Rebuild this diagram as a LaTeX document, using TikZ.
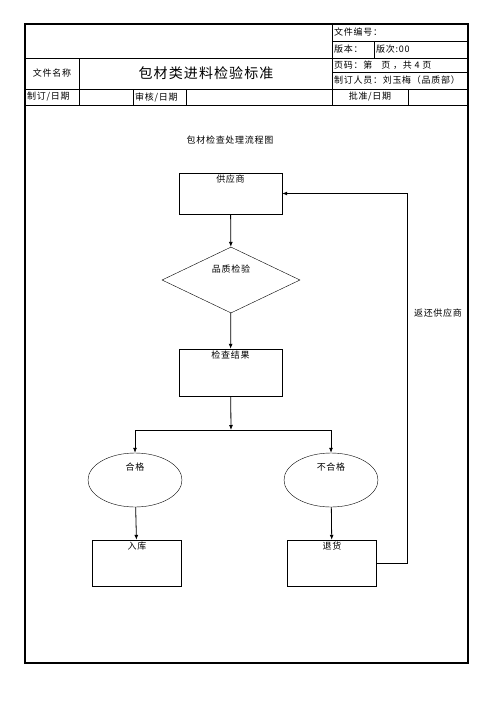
\documentclass[tikz,border=0pt]{standalone}
\usepackage{fontspec}
\setmainfont{Noto Sans CJK SC}[LetterSpace=8]
\usetikzlibrary{shapes.geometric,arrows.meta}

\tikzset{
  cell/.style={anchor=west, inner sep=2pt, font=\fontsize{9}{10}\selectfont},
  flowbox/.style={draw, minimum width=103pt, minimum height=41pt, inner sep=0pt},
  endbox/.style={draw, minimum width=89pt, minimum height=46pt, inner sep=0pt},
  toptext/.style={anchor=north, inner sep=2pt, font=\fontsize{9}{10}\selectfont},
  flow/.style={-{Latex[length=5pt,width=4pt]}, thick}
}

\begin{document}
\begin{tikzpicture}[x=1pt,y=-1pt]
        \useasboundingbox (0,0) rectangle (496,702);
        % header table
        \draw[line width=1.3pt] (25,24) rectangle (468,663);
        \draw[line width=1pt] (25,58) -- (468,58);
        \draw[line width=1pt] (25,89) -- (468,89);
        \draw[line width=1pt] (25,105) -- (468,105);
        \draw[line width=0.8pt] (332,41) -- (468,41);
        \draw[line width=0.8pt] (332,72) -- (468,72);
        \draw[line width=1pt] (332,24) -- (332,105);
        \draw[line width=0.8pt] (374,41) -- (374,58);
        \draw[line width=1pt] (79,58) -- (79,105);
        \draw[line width=1pt] (133,89) -- (133,105);
        \draw[line width=1pt] (186,89) -- (186,105);
        \draw[line width=1pt] (408,89) -- (408,105);
        \node[cell] (docno) at (332,32.5) {文件编号：};
        \node[cell] (ver) at (332,49.5) {版本：};
        \node[cell] (rev) at (374,49.5) {版次:00};
        \node[cell] (page) at (332,65) {页码：第\quad 页 ，共 4 页};
        \node[cell] (editor) at (332,80.5) {制订人员：刘玉梅（品质部）};
        \node[cell, anchor=center] (docname) at (52,73.5) {文件名称};
        \node[font=\fontsize{14}{16}\selectfont] (title) at (206,73.5) {包材类进料检验标准};
        \node[cell] (made) at (25,97) {制订/日期};
        \node[cell] (check) at (133,97) {审核/日期};
        \node[cell, anchor=center] (approve) at (370,97) {批准/日期};
        % flow chart
        \node[cell, anchor=center] (chart) at (230,140) {包材检查处理流程图};
        \node[flowbox] (sup) at (230.5,193.5) {};
        \node[toptext] at (sup.north) {供应商};
        \node[draw, diamond, minimum width=138pt, minimum height=66pt, inner sep=0pt] (qc) at (231,280) {};
        \node[toptext] at (231,263) {品质检验};
        \node[flowbox, minimum height=47pt] (res) at (230.5,372.5) {};
        \node[toptext] at (res.north) {检查结果};
        \coordinate (fork) at (231,430);
        \node[draw, ellipse, minimum width=94pt, minimum height=54pt, inner sep=0pt] (ok) at (135,480) {};
        \node[toptext] at (135,461) {合格};
        \node[draw, ellipse, minimum width=94pt, minimum height=54pt, inner sep=0pt] (ng) at (331,480) {};
        \node[toptext] at (331,461) {不合格};
        \node[endbox] (store) at (137,563) {};
        \node[toptext] at (store.north) {入库};
        \node[endbox] (back) at (332,563) {};
        \node[toptext] at (back.north) {退货};
        \coordinate (turn) at (407,563);
        \node[cell, anchor=center] (retlabel) at (438,313) {返还供应商};
        \draw[flow] (sup) -- (qc);
        \draw[flow] (qc) -- (res);
        \draw[flow] (res) -- (fork);
        \draw[flow] (fork) -| (ok.north);
        \draw[flow] (fork) -| (ng.north);
        \draw[flow] (ok) -- (store);
        \draw[flow] (ng) -- (back);
        \draw[flow] (back.east) -- (turn) |- (sup.east);
    \end{tikzpicture}
\end{document}
